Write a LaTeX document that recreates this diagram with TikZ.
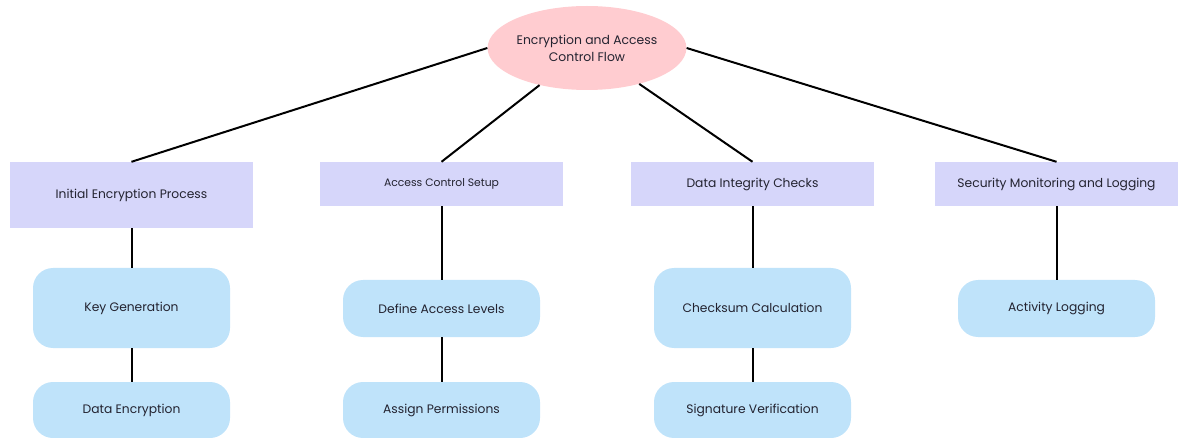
\documentclass[tikz,border=0pt]{standalone}
\usepackage{fontspec}
\setmainfont{Poppins}
\usetikzlibrary{shapes.geometric}
\definecolor{rootpink}{RGB}{255,204,208}
\definecolor{stagelilac}{RGB}{214,214,250}
\definecolor{stepblue}{RGB}{191,227,250}
\definecolor{inkgray}{RGB}{35,35,48}
\tikzset{
	rootnode/.style={ellipse, fill=rootpink, minimum width=198pt, minimum height=84pt,
		inner sep=0pt, align=center, text=inkgray, font=\fontsize{12.4}{17}\selectfont},
	stagebox/.style={rectangle, fill=stagelilac, minimum width=243pt, inner sep=0pt,
		text=inkgray, font=\fontsize{12.3}{15}\selectfont},
	stepbox/.style={rectangle, rounded corners=20pt, fill=stepblue, minimum width=197pt,
		inner sep=0pt, text=inkgray, font=\fontsize{12.3}{15}\selectfont},
	link/.style={line width=2pt, black}
}

\begin{document}
\begin{tikzpicture}[x=1pt, y=-1pt]
			%%%%% START %%%%%
			\useasboundingbox (0, 0) rectangle (1180, 438);
			
			\node[rootnode] (root) at (587, 48) {Encryption and Access\\Control Flow};
			
			\node[stagebox, minimum height=66pt] (encproc) at (131.5, 195) {Initial Encryption Process};
			\node[stagebox, minimum height=44pt, font=\fontsize{10.8}{13}\selectfont] (accsetup) at (441.5, 184) {Access Control Setup};
			\node[stagebox, minimum height=44pt] (integrity) at (752.5, 184) {Data Integrity Checks};
			\node[stagebox, minimum height=44pt] (monitor) at (1056.5, 184) {Security Monitoring and Logging};
			
			\node[stepbox, minimum height=80pt] (keygen) at (131.5, 308) {Key Generation};
			\node[stepbox, minimum height=56pt] (dataenc) at (131.5, 410) {Data Encryption};
			
			\node[stepbox, minimum height=57pt] (levels) at (441.5, 308.5) {Define Access Levels};
			\node[stepbox, minimum height=56pt] (perms) at (441.5, 410) {Assign Permissions};
			
			\node[stepbox, minimum height=80pt] (checksum) at (752.5, 308) {Checksum Calculation};
			\node[stepbox, minimum height=56pt] (sigver) at (752.5, 410) {Signature Verification};
			
			\node[stepbox, minimum height=57pt] (actlog) at (1056.5, 308.5) {Activity Logging};
			
			\draw[link] (root.west) -- (encproc.north);
			\draw[link] (root) -- (accsetup.north);
			\draw[link] (root) -- (integrity.north);
			\draw[link] (root.east) -- (monitor.north);
			
			\draw[link] (encproc) -- (keygen);
			\draw[link] (keygen) -- (dataenc);
			\draw[link] (accsetup) -- (levels);
			\draw[link] (levels) -- (perms);
			\draw[link] (integrity) -- (checksum);
			\draw[link] (checksum) -- (sigver);
			\draw[link] (monitor) -- (actlog);
			
			%%%%% END %%%%%
\end{tikzpicture}
\end{document}
